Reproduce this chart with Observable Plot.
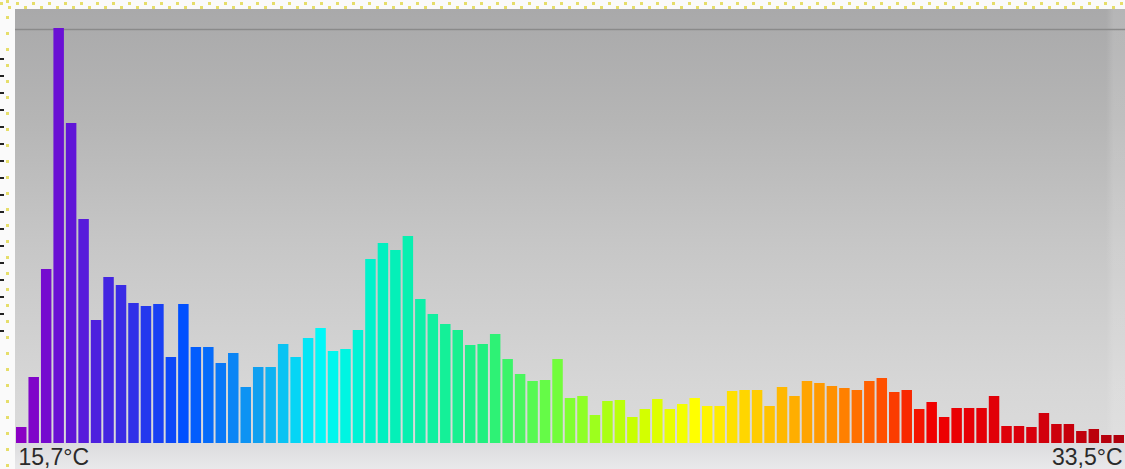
<!DOCTYPE html>
<html><head><meta charset="utf-8">
<script src="https://cdn.jsdelivr.net/npm/d3@7"></script>
<script src="https://cdn.jsdelivr.net/npm/@observablehq/plot@0.6"></script>
<style>
html,body{margin:0;padding:0;background:#fff;}
#wrap{position:relative;width:1125px;height:469px;overflow:hidden;background:#fafafa;}
#panel{position:absolute;left:15px;top:9px;width:1110px;height:434px;background:linear-gradient(to bottom,#a9a9aa 0%,#b5b5b5 25%,#c7c7c7 55%,#d7d7d7 88%,#dbdbdb 100%);}
#shine{position:absolute;left:1106px;top:9px;width:19px;height:434px;background:linear-gradient(to right,rgba(255,255,255,0),rgba(255,255,255,0.14) 40%,rgba(255,255,255,0.14));}
#strip{position:absolute;left:15px;top:443px;width:1110px;height:26px;background:linear-gradient(to bottom,#dcdcde,#e9e9eb);}
.dotrow{position:absolute;height:3px;width:1125px;background:repeating-linear-gradient(to right,#e6de6a 0 3px,transparent 3px 16px);}
#dotsLeft{position:absolute;left:6px;top:0;width:3px;height:469px;background:repeating-linear-gradient(to bottom,#e6de6a 0 3px,transparent 3px 16px);}
#ruler{position:absolute;left:0;top:58px;width:4px;height:280px;background:repeating-linear-gradient(to bottom,#222 0 2px,transparent 2px 17px);}
#chart{position:absolute;left:0;top:0;}
</style>
</head>
<body>
<div id="wrap">
  <div id="panel"></div>
  <div id="shine"></div>
  <div id="strip"></div>
  <div class="dotrow" style="left:0;top:2px;"></div>
  <div class="dotrow" style="left:8px;top:6px;"></div>
  <div id="dotsLeft"></div>
  <div id="ruler"></div>
  <div id="chart"></div>
</div>
<script>
// Histogram bins (index) and counts
const bins = d3.range(1, 90);
const counts = [
  16, 66, 174, 415, 320, 224, 123, 166, 158, 140,
  137, 139, 86, 139, 96, 96, 80, 90, 56, 76,
  76, 99, 86, 105, 115, 92, 94, 113, 184, 200,
  193, 207, 144, 129, 119, 113, 98, 99, 109, 84,
  69, 62, 63, 84, 45, 47, 28, 42, 43, 26,
  34, 44, 34, 39, 45, 37, 37, 52, 53, 53,
  37, 56, 47, 62, 60, 57, 55, 53, 62, 65,
  51, 53, 34, 41, 26, 35, 35, 35, 47, 17,
  17, 16, 30, 19, 19, 12, 14, 8, 8
];
const minLabel = "15,7°C";
const maxLabel = "33,5°C";

const data = bins.map((b, i) => ({bin: b, count: counts[i]}));

const chart = Plot.plot({
  width: 1125,
  height: 469,
  marginLeft: 15,
  marginRight: 0,
  marginTop: 28,
  marginBottom: 26,
  style: {background: "transparent", fontFamily: "'Liberation Sans', Arial, sans-serif", overflow: "visible"},
  x: {type: "band", domain: bins, paddingInner: 0.16, paddingOuter: 0.08, axis: null},
  y: {domain: [0, d3.max(counts)], axis: null},
  color: {
    type: "linear",
    domain: [1, 4, 10, 14, 20, 25, 30, 38, 45, 50, 55, 60, 66, 70, 74, 82, 89],
    range: ["#8a00c4", "#6a10d4", "#3030e8", "#0050ff", "#10a0f0", "#00f8f8", "#00f0c0",
            "#20f080", "#80ff30", "#c8ff00", "#ffff00", "#ffcc00", "#ff9000", "#ff5000",
            "#f00000", "#d8000c", "#b0000c"],
    interpolate: "rgb"
  },
  marks: [
    Plot.ruleY([d3.max(counts)], {stroke: "#8a8a8a", strokeWidth: 1.3, dy: 1}),
    Plot.barY(data, {x: "bin", y: "count", fill: "bin"}),
    Plot.text([minLabel], {text: d => d, frameAnchor: "bottom-left", dx: 3, dy: 5, lineAnchor: "top", textAnchor: "start", fontSize: 23, fill: "#2a2a2a"}),
    Plot.text([maxLabel], {text: d => d, frameAnchor: "bottom-right", dx: -3, dy: 5, lineAnchor: "top", textAnchor: "end", fontSize: 23, fill: "#2a2a2a"})
  ]
});
document.getElementById("chart").appendChild(chart);
</script>
</body></html>
